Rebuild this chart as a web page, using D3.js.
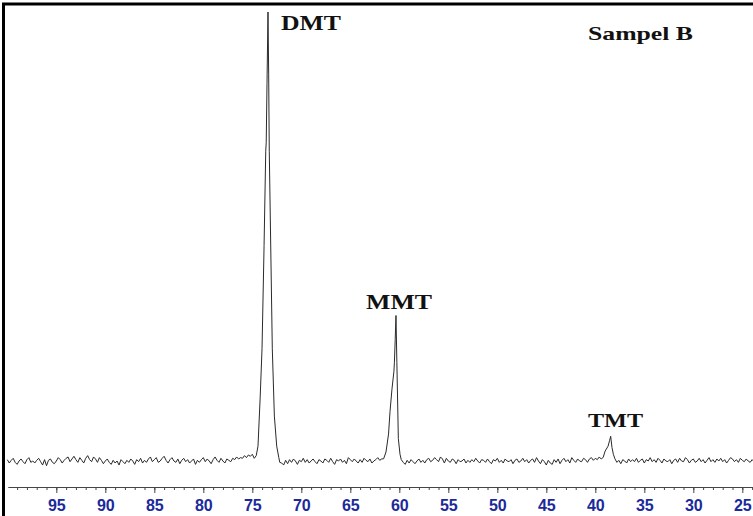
<!DOCTYPE html>
<html>
<head>
<meta charset="utf-8">
<script src="https://cdn.jsdelivr.net/npm/d3@7"></script>
<style>
  body { margin: 0; background: #fff; }
  svg { display: block; }
</style>
</head>
<body>
<svg id="chart" width="753" height="516"></svg>
<script>
// chemical shift tick labels (ppm)
const majorTicks = [95, 90, 85, 80, 75, 70, 65, 60, 55, 50, 45, 40, 35, 30, 25];

// peaks: [ppm, intensity], DMT top = 100
const dmtPeak = [
  [74.8, 0.6], [74.6, 1.2], [74.42, 3.3], [74.2, 14], [74.01, 25], [73.8, 48],
  [73.63, 69], [73.58, 71], [73.5, 84], [73.4, 100], [73.33, 86], [73.27, 69],
  [73.1, 45], [72.96, 25], [72.75, 10], [72.51, 3.3], [72.3, 0.8]
];
const mmtPeak = [
  [61.6, 0.5], [61.36, 2], [61.1, 6], [60.95, 11], [60.75, 16], [60.55, 20],
  [60.5, 22], [60.42, 27], [60.34, 32.4], [60.25, 22], [60.1, 5], [59.93, 1.5], [59.8, 0.3]
];
const tmtPeak = [
  [39.2, 0.8], [39.0, 2.2], [38.7, 3.3], [38.55, 4.5], [38.43, 5.5],
  [38.3, 3], [38.16, 1.5], [38.0, 0.5]
];

// baseline noise, one value every 0.2 ppm from 100 ppm (values under the peaks unused)
const baselineNoise = [
  2,-3,1,4,-2,-5,0,3,-1,-4,2,5,-2,0,-3,1,4,-1,-6,2,
  -7,1,3,-2,-4,0,5,2,-3,1,4,6,-1,3,7,2,-2,5,1,-3,
  4,8,2,-1,6,3,-2,5,1,-4,0,3,-2,-5,1,-3,0,-6,2,-1,
  -4,1,-2,3,0,-5,2,-1,4,-3,1,-2,3,6,-1,2,5,-2,0,4,
  7,1,-3,2,5,0,-2,3,-4,1,4,-1,2,-3,0,3,-5,1,-2,2,
  5,-1,3,0,-4,2,6,1,-2,4,0,-3,3,1,-1,4,2,6,3,5,
  4,8,5,9,7,10,0,0,0,0,0,0,0,0,0,0,0,0,0,-2,
  -3,-6,1,-4,2,-2,3,0,-5,1,-1,4,-2,2,-3,0,3,-1,-4,2,
  0,-3,3,1,-2,4,-1,-5,2,0,3,-2,1,-4,5,2,-1,3,0,-3,
  2,-2,4,1,-1,3,-3,0,2,5,1,3,0,0,0,0,0,0,0,0,
  0,0,-2,-5,1,-3,2,-1,-4,0,3,-2,1,-3,2,4,-1,1,5,2,
  -1,6,3,-3,4,0,-2,3,1,-4,2,-1,0,3,-3,1,-2,2,-1,4,
  0,-3,2,1,-2,3,-1,-4,2,0,4,-2,1,-3,3,0,-1,2,-4,1,
  3,-2,0,4,-1,2,-3,1,3,-2,5,0,-4,2,-1,-6,1,-3,-5,2,
  -2,3,-4,1,4,-1,2,-3,5,1,-2,3,0,-1,4,2,-2,3,5,1,
  4,2,6,3,0,0,0,0,0,0,0,-2,1,-4,2,0,-3,3,-1,2,
  -1,4,-2,1,3,-3,2,0,5,-1,2,-2,4,1,-3,3,0,-1,2,-4,
  1,3,-2,4,0,-1,5,2,-3,1,3,-2,0,4,-1,2,-3,1,5,-1,
  2,-2,3,0,4,-1,2,-3,1,5,3,-1,2,-2,4,1,-1,3,0,-2,
  2,-1
];

const peakNames = ['DMT', 'MMT', 'TMT'];
const sampleName = 'Sampel B';

const NOISE_START = 100, NOISE_STEP = 0.2, NOISE_UNIT = 0.15;

// put the spectrum together: noise outside the peak windows, peak points inside
const peaks = [dmtPeak, mmtPeak, tmtPeak];
const windows = peaks.map(p => d3.extent(p, d => d[0]));
const spectrum = [];
baselineNoise.forEach((v, i) => {
  const ppm = NOISE_START - i * NOISE_STEP;
  if (windows.some(([lo, hi]) => ppm >= lo - 1e-6 && ppm <= hi + 1e-6)) return;
  spectrum.push([ppm, v * NOISE_UNIT]);
});
peaks.forEach(p => p.forEach(d => spectrum.push(d)));
spectrum.sort((a, b) => b[0] - a[0]);

const svg = d3.select('#chart');

const x = d3.scaleLinear().domain([99.93, 23.91]).range([8, 753]);
const y = d3.scaleLinear().domain([0, 100]).range([461, 12]);

// spectrum trace
svg.append('path')
  .datum(spectrum)
  .attr('fill', 'none')
  .attr('stroke', '#2a2a2a')
  .attr('stroke-width', 1)
  .attr('stroke-linejoin', 'round')
  .attr('d', d3.line().x(d => x(d[0])).y(d => y(d[1])));

// ppm axis
const axisY = 487;
svg.append('g')
  .attr('transform', `translate(0,${axisY})`)
  .call(d3.axisBottom(x).tickValues(d3.range(99, 23, -1)).tickSize(3).tickSizeOuter(0).tickFormat(''))
  .call(g => g.selectAll('line, path').attr('stroke', '#444'));

const major = svg.append('g')
  .attr('transform', `translate(0,${axisY})`)
  .call(d3.axisBottom(x).tickValues(majorTicks).tickSize(6).tickSizeOuter(0));
major.select('.domain').attr('stroke', '#444');
major.selectAll('.tick line').attr('stroke', '#444');
major.selectAll('.tick text')
  .attr('dy', null)
  .attr('y', 23.5)
  .attr('fill', '#1b2a9b')
  .attr('font-family', '"Liberation Sans", Arial, sans-serif')
  .attr('font-weight', 'bold')
  .attr('font-size', 16);

// peak labels
const labelPos = [
  { x: 281, y: 30, anchor: 'start', size: 22, len: 60 },
  { x: 399, y: 309, anchor: 'middle', size: 20, len: 66 },
  { x: 615.5, y: 427, anchor: 'middle', size: 19, len: 55 }
];
svg.selectAll('text.peak')
  .data(peakNames)
  .enter().append('text')
  .attr('class', 'peak')
  .attr('x', (d, i) => labelPos[i].x)
  .attr('y', (d, i) => labelPos[i].y)
  .attr('text-anchor', (d, i) => labelPos[i].anchor)
  .attr('font-size', (d, i) => labelPos[i].size)
  .attr('textLength', (d, i) => labelPos[i].len)
  .attr('lengthAdjust', 'spacingAndGlyphs')
  .attr('font-family', '"Liberation Serif", "Times New Roman", serif')
  .attr('font-weight', 'bold')
  .attr('fill', '#111')
  .text(d => d);

svg.append('text')
  .attr('x', 588)
  .attr('y', 40)
  .attr('font-size', 19)
  .attr('textLength', 105)
  .attr('lengthAdjust', 'spacingAndGlyphs')
  .attr('font-family', '"Liberation Serif", "Times New Roman", serif')
  .attr('font-weight', 'bold')
  .attr('fill', '#111')
  .text(sampleName);

// frame (left and top edges)
svg.append('path')
  .attr('d', 'M3.5,516V4H753')
  .attr('fill', 'none')
  .attr('stroke', '#000')
  .attr('stroke-width', 3);
</script>
</body>
</html>
